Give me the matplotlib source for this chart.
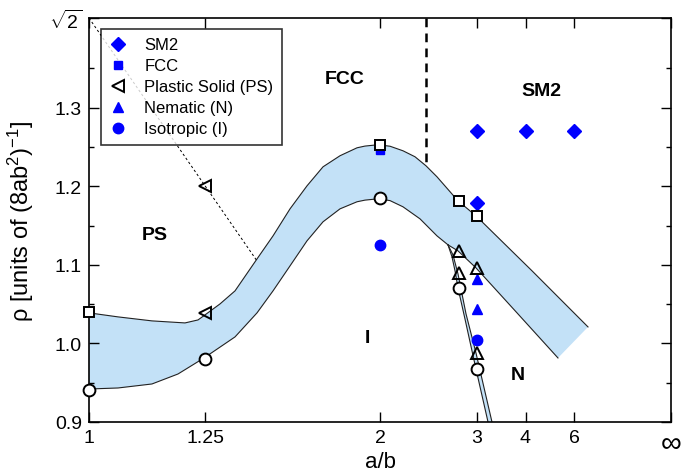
import numpy as np
import matplotlib
matplotlib.use("Agg")
import matplotlib.pyplot as plt
from matplotlib.lines import Line2D

plt.rcParams['font.family'] = ['Liberation Sans', 'DejaVu Sans']
plt.rcParams['mathtext.fontset'] = 'custom'
plt.rcParams['mathtext.rm'] = 'Liberation Sans'
plt.rcParams['mathtext.it'] = 'Liberation Sans:italic'
plt.rcParams['mathtext.bf'] = 'Liberation Sans:bold'

# ---- data (x given as a/b, plotted on the 1 - b/a axis) ----
xtick_ab = [1, 1.25, 2, 3, 4, 6, np.inf]
xtick_labels = ['1', '1.25', '2', '3', '4', '6', '∞']
ytick_vals = [0.9, 1.0, 1.1, 1.2, 1.3, np.sqrt(2)]
ytick_labels = ['0.9', '1.0', '1.1', '1.2', '1.3', r'$\sqrt{2}$']

# open symbols (simulation boundaries)
sq_open_ab = [1, 2, 2.75, 3]
sq_open_rho = [1.040, 1.253, 1.181, 1.162]
circ_open_ab = [1, 1.25, 2, 2.75, 3]
circ_open_rho = [0.941, 0.980, 1.185, 1.071, 0.967]
tri_open_ab = [2.75, 2.75, 3, 3]
tri_open_rho = [1.118, 1.090, 1.096, 0.988]
tril_open_ab = [1.25, 1.25]
tril_open_rho = [1.200, 1.039]

# filled blue state points
sm2_ab = [3, 4, 6, 3]
sm2_rho = [1.271, 1.271, 1.271, 1.179]
fcc_ab = [2]
fcc_rho = [1.246]
nem_ab = [3, 3]
nem_rho = [1.082, 1.044]
iso_ab = [2, 3]
iso_rho = [1.125, 1.004]

# boundary curves, x given directly as 1 - b/a
upper_x = [0.0, 0.0498, 0.1082, 0.1649, 0.1873, 0.1993, 0.2251, 0.2509, 0.2887,
           0.3162, 0.3454, 0.3746, 0.4021, 0.4313, 0.4605, 0.4742, 0.4966, 0.5172,
           0.5395, 0.5601, 0.5790, 0.5979, 0.6340, 0.6649, 0.7612, 0.8574]
upper_rho = [1.0389, 1.0338, 1.0287, 1.0261, 1.0299, 1.0363, 1.0503, 1.0669, 1.1076,
             1.1369, 1.1713, 1.2006, 1.2248, 1.2389, 1.2490, 1.2512, 1.2529, 1.2510,
             1.2452, 1.2376, 1.2261, 1.2121, 1.1815, 1.1624, 1.0924, 1.0210]
lower_x = [0.0, 0.0498, 0.1082, 0.1529, 0.1976, 0.2509, 0.2887, 0.3162, 0.3454,
           0.3746, 0.4021, 0.4313, 0.4605, 0.4742, 0.4966, 0.5172, 0.5395, 0.5687,
           0.5979, 0.6168]
lower_rho = [0.9420, 0.9433, 0.9484, 0.9611, 0.9815, 1.0083, 1.0389, 1.0669, 1.0987,
             1.1306, 1.1548, 1.1713, 1.1803, 1.1824, 1.1841, 1.1818, 1.1739, 1.1586,
             1.1369, 1.1255]
iso_line_x = [0.6168, 0.6237, 0.6289, 0.6340, 0.6460, 0.6649, 0.6856]
iso_line_rho = [1.1255, 1.1102, 1.0924, 1.0707, 1.0312, 0.9675, 0.9000]
nem_line_x = [0.6168, 0.6254, 0.6340, 0.6478, 0.6649, 0.6924]
nem_line_rho = [1.1255, 1.1127, 1.0885, 1.0376, 0.9879, 0.9000]
diag_x = [0.6168, 0.6340, 0.6649, 0.7354, 0.8058]
diag_rho = [1.1255, 1.1178, 1.0962, 1.0389, 0.9815]

ps_line_x = [0.0, 0.2, 0.2887]
ps_line_rho = [np.sqrt(2), 1.2, 1.105]
fcc_sm2_x = [0.5785, 0.5785]
fcc_sm2_rho = [np.sqrt(2), 1.227]

region_labels = ['PS', 'FCC', 'SM2', 'I', 'N']
region_x = [0.113, 0.440, 0.778, 0.478, 0.737]
region_rho = [1.139, 1.337, 1.322, 1.008, 0.961]


def tr(ab):
    ab = np.asarray(ab, dtype=float)
    return np.where(np.isinf(ab), 1.0, 1.0 - 1.0 / ab)


fill_c = '#c3e1f7'
blue = '#0000ff'

fig = plt.figure(figsize=(6.91, 4.77), dpi=100)
ax = fig.add_axes([89 / 691, 1 - 423 / 477, 582 / 691, 404 / 477])

# shaded coexistence band
poly_x = upper_x + diag_x[::-1] + lower_x[::-1]
poly_y = upper_rho + diag_rho[::-1] + lower_rho[::-1]
ax.fill(poly_x, poly_y, color=fill_c, lw=0, zorder=1)
ax.fill(iso_line_x + nem_line_x[::-1], iso_line_rho + nem_line_rho[::-1],
        color=fill_c, lw=0, zorder=1)

lk = dict(color='#222222', lw=0.8, zorder=2, solid_joinstyle='round')
ax.plot(upper_x, upper_rho, **lk)
ax.plot(lower_x, lower_rho, **lk)
ax.plot(iso_line_x, iso_line_rho, **lk)
ax.plot(nem_line_x, nem_line_rho, **lk)
ax.plot(diag_x, diag_rho, **lk)

ax.plot(ps_line_x, ps_line_rho, color='black', lw=0.7, ls=(0, (2.5, 2.5)), zorder=2)
ax.plot(fcc_sm2_x, fcc_sm2_rho, color='black', lw=1.8, ls=(0, (3.5, 2.5)), zorder=2)

# blue points
ax.plot(tr(sm2_ab), sm2_rho, 'D', color=blue, ms=7, mec=blue, zorder=3)
ax.plot(tr(fcc_ab), fcc_rho, 's', color=blue, ms=6, mec=blue, zorder=3)
ax.plot(tr(nem_ab), nem_rho, '^', color=blue, ms=7.5, mec=blue, zorder=3)
ax.plot(tr(iso_ab), iso_rho, 'o', color=blue, ms=7.5, mec=blue, zorder=3)

# open symbols
ok = dict(mfc='white', mec='black', mew=1.4, ls='none', zorder=4, clip_on=False)
ax.plot(tr(sq_open_ab), sq_open_rho, 's', ms=7.5, **ok)
ax.plot(tr(circ_open_ab), circ_open_rho, 'o', ms=8.5, **ok)
ok['mfc'] = 'none'
ax.plot(tr(tri_open_ab), tri_open_rho, '^', ms=8.5, **ok)
ax.plot(tr(tril_open_ab), tril_open_rho, '<', ms=8.5, **ok)

for lab, x, y in zip(region_labels, region_x, region_rho):
    ax.text(x, y, lab, fontsize=14, fontweight='bold', ha='center', va='center')

ax.set_xlim(0, 1)
ax.set_ylim(0.9, np.sqrt(2))
ax.set_xticks(tr(xtick_ab))
ax.set_xticklabels(xtick_labels)
ax.set_yticks(ytick_vals)
ax.set_yticklabels(ytick_labels)
ax.set_yticks(np.arange(0.95, 1.36, 0.1), minor=True)
ax.tick_params(which='both', direction='in', top=True, right=True, labelsize=14)
inf_lab = ax.get_xticklabels()[-1]
inf_lab.set_fontsize(21)
ax.tick_params(which='major', length=7, width=1.0, pad=5)
ax.tick_params(which='minor', length=3.5, width=1.0)
for s in ax.spines.values():
    s.set_linewidth(1.2)

ax.set_xlabel('a/b', fontsize=16)
ax.xaxis.set_label_coords(0.5, -(452 - 423) / 404)
ax.set_ylabel(r'ρ [units of (8ab$^{2}$)$^{-1}$]', fontsize=17)
ax.yaxis.set_label_coords(-(89 - 36) / 582, 0.5)

handles = [
    Line2D([], [], marker='D', color=blue, ls='none', ms=7),
    Line2D([], [], marker='s', color=blue, ls='none', ms=6),
    Line2D([], [], marker='<', mfc='none', mec='black', mew=1.4, ls='none', ms=8),
    Line2D([], [], marker='^', color=blue, ls='none', ms=7.5),
    Line2D([], [], marker='o', color=blue, ls='none', ms=7.5),
]
labels = ['SM2', 'FCC', 'Plastic Solid (PS)', 'Nematic (N)', 'Isotropic (I)']
leg = ax.legend(handles, labels, loc='upper left', bbox_to_anchor=(12 / 582, 1 - 11 / 404),
                borderaxespad=0, fontsize=12, frameon=True, fancybox=False,
                edgecolor='black', handlelength=1.0, handletextpad=1.1,
                labelspacing=0.36, borderpad=0.5)
leg.get_frame().set_linewidth(1.2)
leg.set_zorder(5)

fig.savefig('out.png', dpi=100)
